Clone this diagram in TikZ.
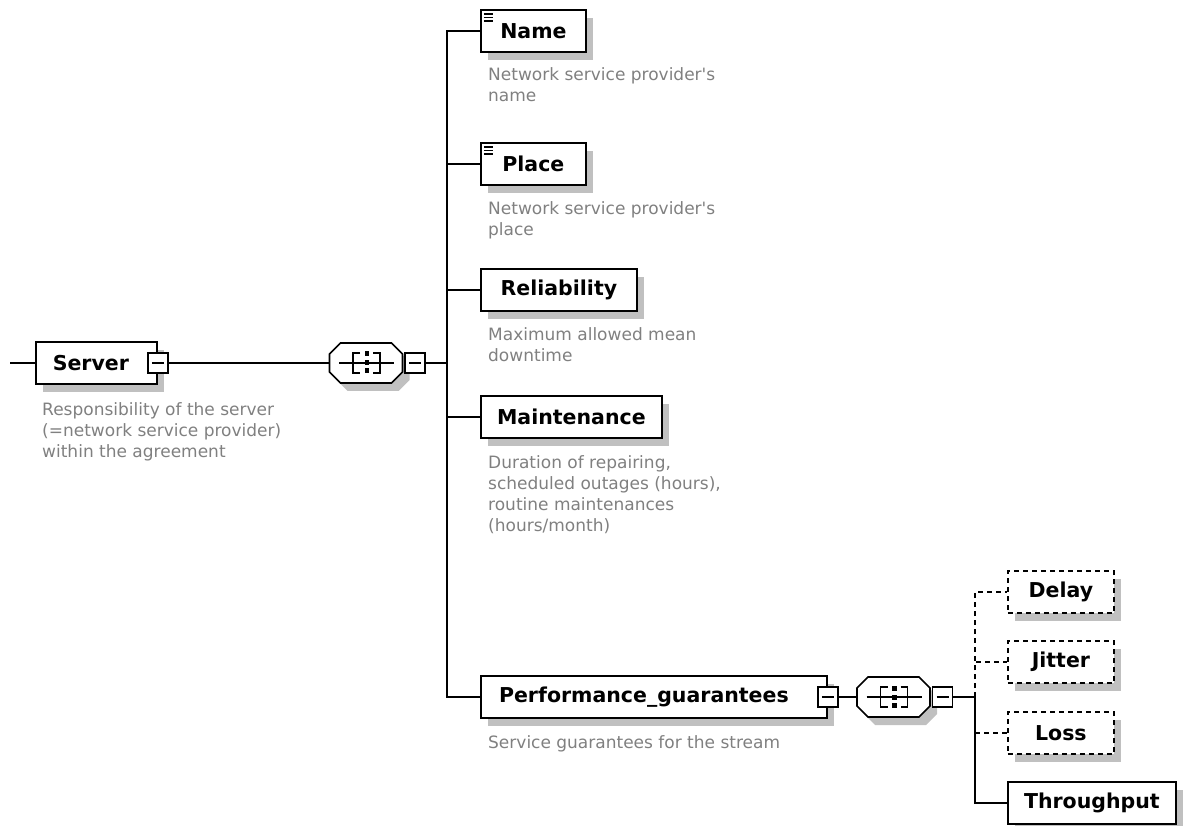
\documentclass[tikz,border=0pt]{standalone}
\usepackage{fontspec}
\setmainfont{DejaVu Sans}
\usetikzlibrary{shadows}
\definecolor{descgray}{RGB}{128,128,128}
\definecolor{shadegray}{RGB}{192,192,192}
\newcommand{\apos}{\textquotesingle}
\tikzset{
  wire/.style={line width=1.6pt},
  optwire/.style={wire, dash pattern=on 5pt off 4pt},
  elem/.style={draw, line width=1.8pt, fill=white, minimum height=42pt,
    inner xsep=0pt, inner ysep=0pt, anchor=west,
    font=\fontsize{20.5}{24}\selectfont\bfseries,
    drop shadow={shadow xshift=7pt, shadow yshift=-8pt, fill=shadegray, opacity=1}},
  optelem/.style={elem, dash pattern=on 5pt off 4pt},
  textmark/.style={path picture={
    \foreach \k in {4,7.5,11}
      \draw[line width=1.3pt] ([xshift=3pt,yshift=-\k pt]path picture bounding box.north west) -- ++(9pt,0pt);}},
  desc/.style={anchor=north west, inner sep=0pt, align=left, text=descgray,
    font=\fontsize{17}{21}\selectfont},
  collapse/.style={draw, line width=1.5pt, fill=white, minimum size=20pt, inner sep=0pt,
    path picture={\draw[line width=1.4pt]
      ([xshift=4pt]path picture bounding box.west) -- ([xshift=-4pt]path picture bounding box.east);}},
  sequence/.pic={
    % shadow of the compositor
    \fill[shadegray, shift={(7,8)}] (-25.5,-20) -- (25.5,-20) -- (36.5,-9) -- (36.5,9)
      -- (25.5,20) -- (-25.5,20) -- (-36.5,9) -- (-36.5,-9) -- cycle;
    \node[inner sep=0pt, minimum width=73pt, minimum height=40pt] (-box) at (0,0) {};
    \draw[line width=1.6pt, fill=white] (-25.5,-20) -- (25.5,-20) -- (36.5,-9) -- (36.5,9)
      -- (25.5,20) -- (-25.5,20) -- (-36.5,9) -- (-36.5,-9) -- cycle;
    % sequence symbol
    \draw[line width=1.5pt] (-27,0) -- (28,0);
    \draw[line width=1.5pt] (-6,-10) -- (-13,-10) -- (-13,10) -- (-6,10);
    \draw[line width=1.5pt] (7,-10) -- (14,-10) -- (14,10) -- (7,10);
    \fill (-1.5,-11.5) rectangle (3,-6.5);
    \fill (-1.5,-2.5) rectangle (3,2.5);
    \fill (-1.5,5.5) rectangle (3,10.5);
    \node[collapse] (-minus) at (49,0) {};
  }
}
\begin{document}
\begin{tikzpicture}[x=1pt,y=-1pt]
\useasboundingbox (0,0) rectangle (1184,826);

% root element
\coordinate (root) at (10,363);
\node[elem, minimum width=121pt] (server) at (35,363) {Server\hspace*{11pt}};
\node[collapse] (servermin) at (server.east) {};
\node[desc] (serverdesc) at (42,402) {Responsibility of the server\\(=network service provider)\\within the agreement};

\pic (seqA) at (366,363) {sequence};
\coordinate (busA) at (447,363);

% children of the first sequence
\node[elem, textmark, minimum width=105pt] (name) at (480,31) {Name};
\node[desc] (namedesc) at (488,67) {Network service provider\apos s\\name};

\node[elem, textmark, minimum width=105pt] (place) at (480,164) {Place};
\node[desc] (placedesc) at (488,201) {Network service provider\apos s\\place};

\node[elem, minimum width=156pt] (reliab) at (480,290) {Reliability};
\node[desc] (reliabdesc) at (488,327) {Maximum allowed mean\\downtime};

\node[elem, minimum width=181pt] (maint) at (480,417) {Maintenance};
\node[desc] (maintdesc) at (488,455) {Duration of repairing,\\scheduled outages (hours),\\routine maintenances\\(hours/month)};

\node[elem, minimum width=346pt] (perf) at (480,697) {Performance\_guarantees\hspace*{20pt}};
\node[collapse] (perfmin) at (perf.east) {};
\node[desc] (perfdesc) at (488,735) {Service guarantees for the stream};

\pic (seqB) at (893.5,697) {sequence};
\coordinate (busB) at (975,697);

% children of the second sequence
\node[optelem, minimum width=106pt] (delay) at (1007,592) {Delay};
\node[optelem, minimum width=106pt] (jitter) at (1007,662) {Jitter};
\node[optelem, minimum width=106pt] (loss) at (1007,733) {Loss};
\node[elem, minimum width=168pt] (thru) at (1007,803) {Throughput};

% connectors
\draw[wire] (root) -- (server.west);
\draw[wire] (servermin.east) -- (seqA-box.west);
\draw[wire] (seqA-minus.east) -- (busA);
\foreach \n in {name,place,reliab,maint,perf}
  \draw[wire] (busA) |- (\n.west);
\draw[wire] (perfmin.east) -- (seqB-box.west);
\draw[wire] (seqB-minus.east) -- (busB);
\foreach \n in {delay,jitter,loss}
  \draw[optwire] (busB) |- (\n.west);
\draw[wire] (busB) |- (thru.west);
\end{tikzpicture}
\end{document}
